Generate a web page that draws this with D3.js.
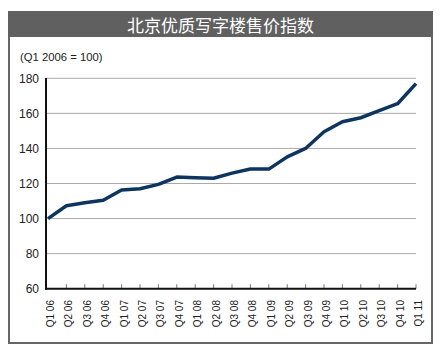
<!DOCTYPE html>
<html><head><meta charset="utf-8">
<script src="https://cdn.jsdelivr.net/npm/d3@7"></script>
<style>html,body{margin:0;padding:0;background:#fff;}svg{display:block;}</style>
</head><body>
<script>
const categories = ["Q1 06","Q2 06","Q3 06","Q4 06","Q1 07","Q2 07","Q3 07","Q4 07","Q1 08","Q2 08","Q3 08","Q4 08","Q1 09","Q2 09","Q3 09","Q4 09","Q1 10","Q2 10","Q3 10","Q4 10","Q1 11"];
const values = [100,107.3,109,110.4,116.3,117,119.5,123.7,123.3,123,125.9,128.3,128.2,135.2,140,149.5,155.2,157.5,161.5,165.5,177];
const yTicks = [60,80,100,120,140,160,180];
const title = "北京优质写字楼售价指数";
const subtitle = "(Q1 2006 = 100)";

const W = 446, H = 357;
const svg = d3.select("body").append("svg").attr("width", W).attr("height", H);

// frame + title bar
svg.append("rect").attr("x", 9).attr("y", 12).attr("width", 423).attr("height", 331)
  .attr("fill", "#fff").attr("stroke", "#666").attr("stroke-width", 2);
svg.append("rect").attr("x", 8).attr("y", 11).attr("width", 425).attr("height", 26).attr("fill", "#606060");
svg.append("text").attr("x", 220.5).attr("y", 32).attr("text-anchor", "middle")
  .attr("fill", "#fff").attr("font-family", "'Noto Sans CJK SC', sans-serif").attr("font-size", 17)
  .text(title);
svg.append("text").attr("x", 20).attr("y", 61).attr("fill", "#222")
  .attr("font-family", "'Liberation Sans', Arial, sans-serif").attr("font-size", 11.3).text(subtitle);

const x = d3.scalePoint().domain(categories).range([48, 416]);
const y = d3.scaleLinear().domain([60, 180]).range([288.7, 78.3]);

// gridlines
svg.append("g").selectAll("line").data(yTicks.filter(d => d > 60)).join("line")
  .attr("x1", 46).attr("x2", 416).attr("y1", d => y(d)).attr("y2", d => y(d))
  .attr("stroke", "#aaa").attr("stroke-width", 1);

// y labels
svg.append("g").selectAll("text").data(yTicks).join("text")
  .attr("x", 39).attr("y", d => y(d) + 4.5).attr("text-anchor", "end")
  .attr("fill", "#222").attr("font-family", "'Liberation Sans', Arial, sans-serif").attr("font-size", 12)
  .text(d => d);

// x tick marks (inside)
svg.append("g").selectAll("line").data(categories.slice(1)).join("line")
  .attr("x1", d => x(d)).attr("x2", d => x(d)).attr("y1", y(60)).attr("y2", y(60) - 4.5)
  .attr("stroke", "#777").attr("stroke-width", 1);

// x labels
svg.append("g").selectAll("text").data(categories).join("text")
  .attr("transform", d => `translate(${x(d) + 6},300) rotate(-90)`)
  .attr("text-anchor", "end").attr("fill", "#222")
  .attr("font-family", "'Liberation Sans', Arial, sans-serif").attr("font-size", 10)
  .text(d => d);

// axes lines
svg.append("line").attr("x1", 46).attr("x2", 46).attr("y1", 78).attr("y2", 289.7)
  .attr("stroke", "#111").attr("stroke-width", 2);
svg.append("line").attr("x1", 45).attr("x2", 416).attr("y1", 288.8).attr("y2", 288.8)
  .attr("stroke", "#111").attr("stroke-width", 2);

// data line
const line = d3.line().x((d, i) => x(categories[i])).y(d => y(d));
svg.append("path").datum(values).attr("d", line).attr("fill", "none")
  .attr("stroke", "#0d3560").attr("stroke-width", 3.5).attr("stroke-linejoin", "round");
</script>
</body></html>
